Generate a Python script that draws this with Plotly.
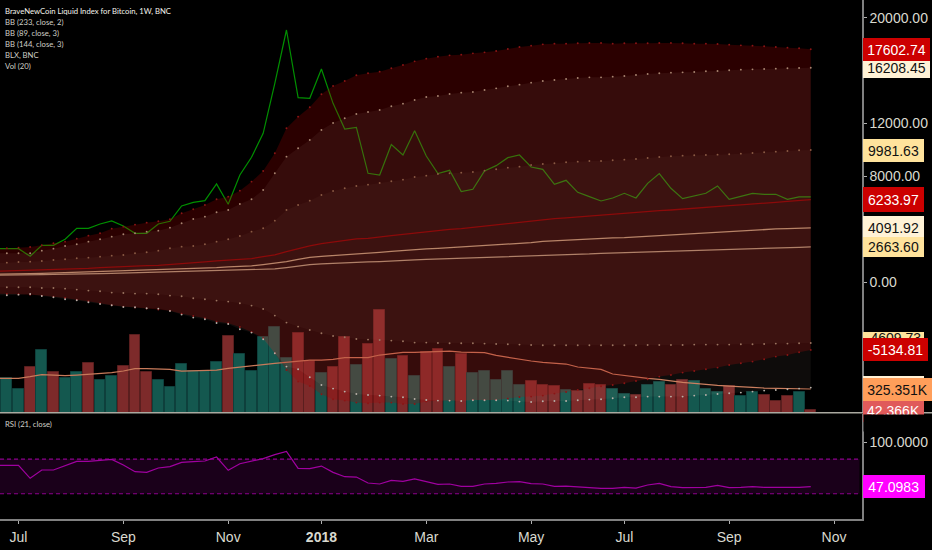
import pandas as pd
import plotly.graph_objects as go

weeks = pd.date_range("2017-06-19", periods=71, freq="W-MON")

close = [2524,2524,2524,1945,2776,2776,3230,4062,4062,4390,4617,4239,3684,3684,4390,4592,5751,6028,6155,7415,5877,8095,9432,11247,15028,19062,13945,13894,16112,13516,11575,11701,8222,8095,10390,9608,11449,9533,8197,8449,6835,7012,8398,8802,9407,9608,8701,8524,7390,7692,6785,6457,6129,6356,6709,6356,7465,8197,7087,6306,6507,6709,7264,6255,6482,6709,6633,6633,6255,6432,6432]

bb233_up = [2524,2549,2600,2650,2776,2927,3053,3280,3507,3684,4037,4188,4339,4491,4592,4743,5197,5499,5827,6255,6457,6911,7591,8398,9734,11625,12507,13213,14197,14827,15205,15634,15785,15911,16163,16415,16692,16894,17045,17146,17197,17297,17373,17474,17625,17776,17877,17978,18028,18028,18054,18079,18079,18028,18054,18054,18054,18079,18079,18054,18028,18028,18003,17953,17902,17877,17827,17776,17726,17676,17602.74]
bb233_mid = [810,835,835,860,885,911,936,987,1037,1087,1138,1163,1188,1239,1264,1314,1365,1415,1516,1591,1667,1717,1768,1919,2045,2297,2524,2726,2902,3028,3129,3255,3306,3381,3507,3608,3709,3810,3911,3986,4037,4138,4213,4289,4390,4491,4592,4692,4793,4844,4919,4970,5020,5096,5171,5247,5322,5398,5448,5524,5600,5650,5701,5776,5827,5877,5953,6028,6104,6179,6233.97]
bb233_lo = [-879,-904,-929,-955,-1030,-1106,-1207,-1333,-1459,-1610,-1761,-1862,-1938,-2013,-2089,-2165,-2392,-2568,-2744,-2997,-3123,-3400,-3778,-4257,-5392,-6652,-7534,-7862,-8492,-8870,-8971,-9123,-9173,-9123,-9123,-9223,-9223,-9047,-8971,-8971,-8971,-8921,-8921,-8921,-8820,-8694,-8669,-8593,-8442,-8316,-8165,-8039,-7887,-7786,-7660,-7484,-7358,-7156,-7030,-6854,-6728,-6602,-6476,-6274,-6148,-6022,-5845,-5644,-5518,-5316,-5134.81]

bb89_up = [2171,2171,2171,2171,2373,2524,2726,2852,3053,3230,3432,3608,3684,3810,3885,4113,4441,4768,4945,5272,5449,5903,6255,6961,8222,9482,10113,10743,11499,12028,12381,12709,12860,13012,13289,13491,13768,13995,14070,14222,14323,14373,14524,14650,14802,14928,15079,15205,15281,15356,15432,15482,15482,15533,15583,15659,15734,15785,15835,15860,15886,15936,15961,16012,16062,16087,16112,16138,16163,16188,16208.45]
bb89_mid = [583,583,608,633,658,684,709,734,759,784,835,860,885,911,936,961,986,1037,1062,1087,1138,1163,1213,1314,1415,1541,1717,1869,1945,1995,2071,2146,2197,2247,2323,2398,2474,2499,2549,2600,2650,2700,2751,2827,2877,2927,2978,3079,3129,3180,3230,3281,3281,3331,3356,3407,3482,3533,3583,3633,3684,3735,3785,3810,3860,3911,3961,4012,4037,4062,4091.92]
bb89_lo = [-1005,-1005,-955,-904,-1055,-1156,-1307,-1383,-1534,-1660,-1761,-1887,-1913,-1988,-2013,-2190,-2467,-2694,-2820,-3097,-3173,-3576,-3828,-4333,-5392,-6400,-6602,-7207,-7786,-8064,-8291,-8467,-8543,-8593,-8669,-8719,-8845,-8921,-8971,-8971,-8997,-8946,-8946,-8946,-8971,-9047,-9072,-9022,-8997,-8997,-8946,-8896,-8870,-8795,-8719,-8719,-8669,-8669,-8669,-8669,-8593,-8543,-8467,-8417,-8366,-8291,-8215,-8165,-8114,-8064,-7988]

bb144_up = [1415,1465,1516,1541,1591,1667,1717,1793,1843,1919,1995,2045,2171,2247,2373,2549,2675,2726,2852,3053,3230,3482,3810,4062,4641,5449,5827,6155,6583,6886,7087,7264,7365,7491,7617,7743,7944,8045,8171,8222,8272,8323,8423,8524,8650,8726,8852,8927,8978,9053,9104,9155,9155,9205,9255,9306,9381,9457,9507,9558,9583,9608,9633,9659,9709,9759,9810,9860,9911,9961,9981.63]
bb144_mid = [508,508,533,533,558,583,583,608,633,633,658,684,709,709,734,759,784,810,835,835,860,885,911,936,987,1087,1213,1314,1365,1415,1465,1491,1516,1541,1566,1616,1667,1717,1743,1768,1818,1843,1869,1894,1944,1970,1995,2020,2045,2071,2096,2121,2171,2197,2222,2247,2247,2272,2297,2323,2373,2423,2449,2474,2499,2524,2549,2575,2600,2625,2663.60]
bb144_lo = [-400,-400,-400,-400,-450,-450,-501,-576,-652,-702,-803,-828,-879,-879,-929,-1030,-1081,-1232,-1307,-1408,-1484,-1610,-1786,-2039,-2543,-3072,-3375,-3627,-3879,-4081,-4181,-4307,-4358,-4383,-4434,-4484,-4585,-4585,-4610,-4635,-4635,-4635,-4660,-4686,-4711,-4736,-4761,-4786,-4786,-4786,-4786,-4786,-4786,-4786,-4786,-4786,-4761,-4761,-4761,-4761,-4736,-4736,-4736,-4736,-4711,-4711,-4686,-4660,-4660,-4635,-4609.73]

volume = [471328,471328,320320,626912,860288,558272,471328,553696,681824,453024,498784,645216,1070784,553696,443872,352352,672672,567424,572000,690976,1052480,805376,576576,1043328,1180608,750464,1098240,704704,544544,622336,1038752,654368,947232,1409408,736736,782496,498784,832832,869440,626912,809952,549120,576576,453024,567424,379808,434720,384384,370656,306592,297440,388960,375232,320320,256256,242528,379808,420992,384384,453024,430144,329472,288288,370656,224224,283712,242528,160160,233376,283712,42366]
is_up = [0,1,1,0,1,0,1,1,0,1,1,0,0,0,1,1,1,1,1,1,0,1,1,1,1,1,0,0,1,0,0,1,0,0,1,0,1,0,0,1,0,1,1,1,1,1,0,0,0,1,0,0,0,1,1,0,1,1,0,0,1,1,1,0,1,1,0,0,0,1,0]
vol_ma = [471328,471328,471328,494208,521664,517088,507936,517088,526240,530816,549120,572000,604032,604032,604032,594880,572000,576576,581152,585728,608608,622336,640640,658944,677248,690976,713856,723008,723008,732160,755040,755040,755040,791648,809952,828256,828256,837408,846560,846560,832832,828256,823680,787072,759616,741312,709280,690976,681824,668096,626912,613184,594880,530816,507936,485056,471328,457600,434720,416416,402688,384384,375232,366080,352352,347776,338624,334048,329472,329472,325351]

rsi = [72.5,72.5,72.5,57.1,67.0,67.0,71.7,77.3,77.3,78.5,79.7,72.9,65.0,64.2,69.4,71.0,76.1,76.9,77.7,82.5,66.6,74.5,77.7,80.5,85.3,89.2,69.0,68.6,71.7,64.2,59.0,58.6,51.5,50.3,54.7,53.5,56.3,52.7,49.9,50.3,47.5,47.5,50.3,51.1,52.7,53.1,50.7,50.3,47.5,47.9,46.7,45.9,45.1,45.1,46.3,45.5,49.1,51.1,47.1,45.9,46.3,46.3,48.7,45.9,46.3,47.1,46.3,46.3,45.5,46.3,47.0983]

tick_dates = ["2017-07-03","2017-09-04","2017-11-06","2018-01-01","2018-03-05","2018-05-07","2018-07-02","2018-09-03","2018-11-05"]
tick_text = ["Jul","Sep","Nov","<b>2018</b>","Mar","May","Jul","Sep","Nov"]
price_ticks = [20000, 12000, 8000, 0]
rsi_ticks = [100]
rsi_band = [38.7, 80]
legend_lines = ["BraveNewCoin Liquid Index for Bitcoin, 1W, BNC","BB (233, close, 2)","BB (89, close, 3)","BB (144, close, 3)","BLX, BNC","Vol (20)"]

for name, arr in dict(close=close, a=bb233_up, b=bb233_mid, c=bb233_lo, d=bb89_up, e=bb89_mid, f=bb89_lo, g=bb144_up, h=bb144_mid, i=bb144_lo, j=volume, k=is_up, l=vol_ma, m=rsi).items():
    assert len(arr) == 71, (name, len(arr))

W, H = 932, 550
FONT = "Liberation Sans"
SMALL = "Lato"
TXT = "#d9d9cf"
x = list(weeks)
fig = go.Figure()

def add(**kw):
    fig.add_trace(go.Scatter(x=kw.pop("x", x), hoverinfo="skip", showlegend=False, **kw))

# Volume pane (base axis, so everything on the price axis draws over it)
fig.add_trace(go.Bar(x=x, y=volume, yaxis="y", width=6.5*86400000, hoverinfo="skip", showlegend=False,
                     marker=dict(color=["#14584f" if u else "#7d2a2a" for u in is_up],
                                 line=dict(color=["#0e403c" if u else "#5a1e1e" for u in is_up], width=1))))
add(y=vol_ma, yaxis="y", mode="lines", line=dict(color="#c87a5a", width=1.2))

# Price
add(y=close, yaxis="y2", mode="lines", line=dict(color="#009000", width=1.2))

# Bands as translucent fills over bars and price
poly = x + x[::-1]
add(x=poly, y=bb233_up + bb233_lo[::-1], yaxis="y2", mode="none", fill="toself", fillcolor="rgba(170,0,0,0.25)")
add(x=poly, y=bb89_up + bb89_lo[::-1], yaxis="y2", mode="none", fill="toself", fillcolor="rgba(255,220,200,0.055)")
add(x=poly, y=bb144_up + bb144_lo[::-1], yaxis="y2", mode="none", fill="toself", fillcolor="rgba(255,220,180,0.03)")

for arr, c in [(bb233_up, "#8c1414"), (bb233_lo, "#8c1414"), (bb89_up, "#a88470"), (bb89_lo, "#b8b0a8"), (bb144_up, "#8a5a44"), (bb144_lo, "#9a7460")]:
    add(y=arr, yaxis="y2", mode="markers", marker=dict(color=c, size=1.9))
add(y=bb233_mid, yaxis="y2", mode="lines", line=dict(color="#8c0a0a", width=1.3))
add(y=bb89_mid, yaxis="y2", mode="lines", line=dict(color="#b88468", width=1.3))
add(y=bb144_mid, yaxis="y2", mode="lines", line=dict(color="#b08068", width=1.2))

# RSI
add(y=rsi, yaxis="y3", mode="lines", line=dict(color="#a000a0", width=1.2))

x_dom_end = 862 / W
main_bottom = 1 - 412.7 / H
rsi_top = 1 - 413.7 / H
rsi_bottom = 1 - 519 / H

axis_common = dict(showgrid=False, zeroline=False, side="right", showline=True, linecolor="#808080", linewidth=1.5,
                   ticks="outside", ticklen=3, tickwidth=1, tickcolor="#b0b0b0",
                   tickfont=dict(family=FONT, size=14, color=TXT))

shapes = [
    dict(type="rect", xref="paper", x0=0, x1=859.5/W, yref="y3", y0=rsi_band[0], y1=rsi_band[1], fillcolor="#1a001a", line_width=0, layer="below"),
    dict(type="line", xref="paper", x0=0, x1=859.5/W, yref="y3", y0=rsi_band[0], y1=rsi_band[0], line=dict(color="#8c008c", width=1.2, dash="4px,3px"), layer="below"),
    dict(type="line", xref="paper", x0=0, x1=859.5/W, yref="y3", y0=rsi_band[1], y1=rsi_band[1], line=dict(color="#8c008c", width=1.2, dash="4px,3px"), layer="below"),
    dict(type="line", xref="paper", x0=0, x1=1, yref="paper", y0=main_bottom, y1=main_bottom, line=dict(color="#aaa9a0", width=1.5)),
]

ann = []
for i, t in enumerate(legend_lines):
    ann.append(dict(text=t, xref="paper", yref="paper", x=2.5/W, y=1-(11+11*i)/H, xanchor="left", yanchor="middle", showarrow=False,
                    font=dict(family=SMALL, size=7.7, color="#f4f4ec" if i == 0 else "#d0d0c8")))
ann.append(dict(text="RSI (21, close)", xref="paper", yref="paper", x=2.5/W, y=1-424/H, xanchor="left", yanchor="middle", showarrow=False,
                font=dict(family=SMALL, size=7.7, color="#d0d0c8")))

def label(text, value, yref, bg, fg, width, height, yshift=0):
    ann.append(dict(text=text, xref="paper", x=862.5/W, xanchor="left", yref=yref, y=value, yanchor="middle", showarrow=False,
                    bgcolor=bg, width=width, height=height, borderpad=0, borderwidth=0, align="center", valign="middle", yshift=yshift,
                    font=dict(family=FONT, size=14, color=fg)))

CREAM, YEL, RED = "#fff2d6", "#ffe39c", "#cc0000"
label(f"{bb89_up[-1]:.2f}", bb89_up[-1], "y2", CREAM, "#111", 67, 21)
label(f"{bb233_up[-1]:.2f}", bb233_up[-1], "y2", RED, "#fff", 67, 23)
label(f"{bb144_up[-1]:.2f}", bb144_up[-1], "y2", YEL, "#111", 61, 23)
label(f"{bb233_mid[-1]:.2f}", bb233_mid[-1], "y2", RED, "#fff", 61, 25)
label(f"{bb89_mid[-1]:.2f}", bb89_mid[-1], "y2", CREAM, "#111", 61, 23)
label(f"{bb144_mid[-1]:.2f}", bb144_mid[-1], "y2", YEL, "#111", 61, 20)
label(f"{bb144_lo[-1]:.2f}", bb144_lo[-1], "y2", YEL, "#111", 61, 12, yshift=5)
label(f"{bb233_lo[-1]:.2f}", bb233_lo[-1], "y2", RED, "#fff", 65, 23)
label(f"{bb89_lo[-1]:.2f}", bb89_lo[-1], "y2", CREAM, "#111", 61, 23)
label("42.366K", volume[-1], "y", "#e05a5a", "#fff", 61, 23, yshift=-1)
label("325.351K", vol_ma[-1], "y", "#ff9e5a", "#111", 69, 23)
# cut the last label off at the bottom edge of its pane
ann.append(dict(text=" ", xref="paper", yref="paper", x=863/W, y=1-414/H, xanchor="left", yanchor="top", showarrow=False,
                bgcolor="#000", width=69, height=16, borderpad=0))
label(f"{rsi[-1]:.4f}", rsi[-1], "y3", "#ff00ff", "#fff", 61.5, 23)

fig.update_layout(
    width=W, height=H, margin=dict(l=0, r=0, t=0, b=0), autosize=False,
    paper_bgcolor="#000", plot_bgcolor="#000", bargap=0, showlegend=False,
    font=dict(family=FONT, color=TXT),
    xaxis=dict(domain=[0, x_dom_end], anchor="y3", type="date",
               range=["2017-06-21 21:13", "2018-11-21 19:00"],
               tickmode="array", tickvals=tick_dates, ticktext=tick_text,
               showgrid=False, zeroline=False, showline=True, linecolor="#808080", linewidth=1.5,
               ticks="outside", ticklen=3, tickwidth=1, tickcolor="#b0b0b0", ticklabelstandoff=1,
               tickfont=dict(family=FONT, size=14, color=TXT)),
    yaxis=dict(domain=[main_bottom, 1], range=[0, 5665000], visible=False),
    yaxis2=dict(overlaying="y", anchor="x", range=[-9886, 21331], tickmode="array", tickvals=price_ticks, tickformat=".2f", **axis_common),
    yaxis3=dict(domain=[rsi_bottom, rsi_top], anchor="x", range=[8.6, 134.1], tickmode="array", tickvals=rsi_ticks, tickformat=".4f", **axis_common),
    shapes=shapes, annotations=ann,
)

fig.write_html("out.html", config=dict(displayModeBar=False),
               post_script="document.body.style.margin='0';document.body.style.background='#000';document.body.style.overflow='hidden';")
